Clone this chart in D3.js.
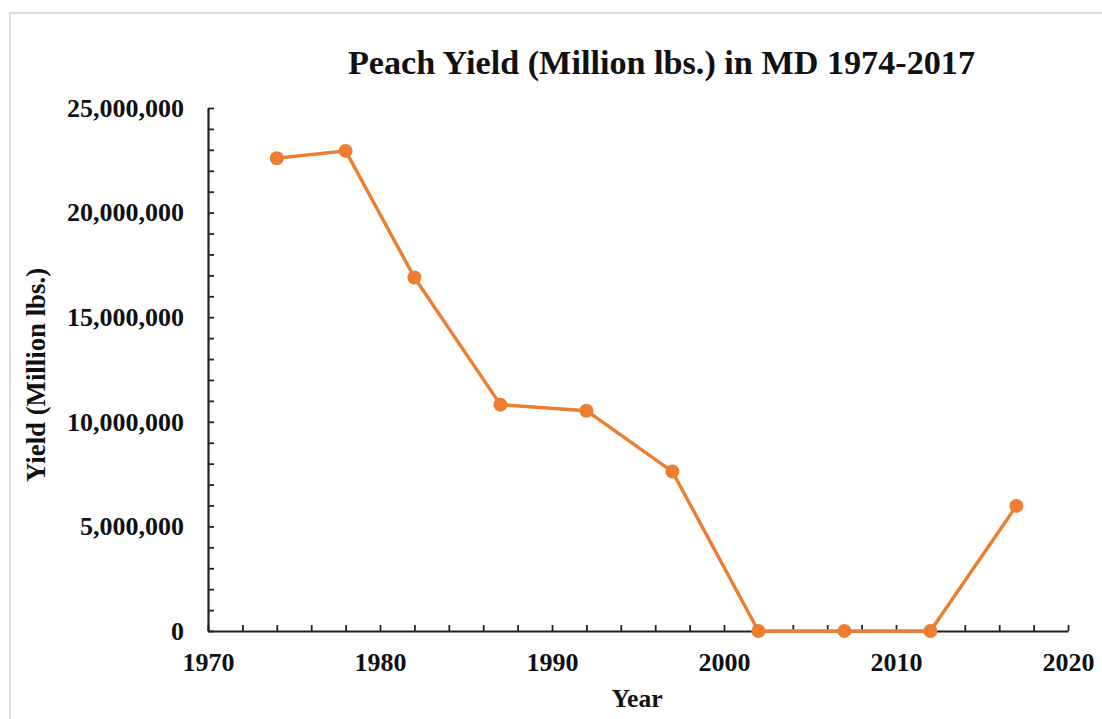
<!DOCTYPE html>
<html>
<head>
<meta charset="utf-8">
<script src="https://cdn.jsdelivr.net/npm/d3@7"></script>
<style>
  html, body { margin: 0; padding: 0; background: #fff; }
  svg { display: block; }
  text { font-family: "Liberation Serif", "Times New Roman", serif; font-weight: bold; fill: #111; }
</style>
</head>
<body>
<svg id="chart" width="1102" height="719"></svg>
<script>
// Maryland peach yield by survey year
const years = [1974, 1978, 1982, 1987, 1992, 1997, 2002, 2007, 2012, 2017];
const yieldLbs = [22600000, 22950000, 16900000, 10820000, 10530000, 7620000, 0, 0, 0, 5980000];
const yTickLabels = [0, 5000000, 10000000, 15000000, 20000000, 25000000];
const xTickLabels = [1970, 1980, 1990, 2000, 2010, 2020];

const titleText = "Peach Yield (Million lbs.) in MD 1974-2017";
const xTitle = "Year";
const yTitle = "Yield (Million lbs.)";

const svg = d3.select("#chart");
const W = 1102, H = 719;
const plot = { left: 208, right: 1068, top: 108, bottom: 631 };
const labelFont = "26px";

// outer frame
svg.append("rect")
  .attr("x", 10).attr("y", 13)
  .attr("width", W + 20).attr("height", H + 20)
  .attr("fill", "#fff").attr("stroke", "#dcdcdc").attr("stroke-width", 2);

const x = d3.scaleLinear().domain([1970, 2020]).range([plot.left, plot.right]);
const y = d3.scaleLinear().domain([0, 25000000]).range([plot.bottom, plot.top]);

const axisColor = "#222";

// y axis: minor ticks every 1M pointing inward
const yMinor = svg.append("g")
  .attr("transform", `translate(${plot.left},0)`)
  .call(d3.axisLeft(y).tickValues(d3.range(0, 25000001, 1000000)).tickFormat("").tickSizeInner(-6).tickSizeOuter(0));
yMinor.select(".domain").attr("stroke", axisColor).attr("stroke-width", 2.2);
yMinor.selectAll(".tick line").attr("stroke", axisColor).attr("stroke-width", 1.8);

// y axis labels
const yLab = svg.append("g")
  .attr("transform", `translate(${plot.left},0)`)
  .call(d3.axisLeft(y).tickValues(yTickLabels).tickFormat(d3.format(",")).tickSize(0).tickPadding(24));
yLab.select(".domain").remove();
yLab.selectAll("text").style("font-size", labelFont).attr("fill", "#111")
  .style("font-family", "'Liberation Serif', serif").style("font-weight", "bold");

// x axis: ticks every 2 years pointing inward
const xMinor = svg.append("g")
  .attr("transform", `translate(0,${plot.bottom})`)
  .call(d3.axisBottom(x).tickValues(d3.range(1970, 2021, 2)).tickFormat("").tickSizeInner(-6).tickSizeOuter(0));
xMinor.select(".domain").attr("stroke", axisColor).attr("stroke-width", 2.2);
xMinor.selectAll(".tick line").attr("stroke", axisColor).attr("stroke-width", 1.8);

// x axis labels
const xLab = svg.append("g")
  .attr("transform", `translate(0,${plot.bottom})`)
  .call(d3.axisBottom(x).tickValues(xTickLabels).tickFormat(d3.format("d")).tickSize(0).tickPadding(22));
xLab.select(".domain").remove();
xLab.selectAll("text").style("font-size", labelFont).attr("fill", "#111")
  .style("font-family", "'Liberation Serif', serif").style("font-weight", "bold");

// series line and markers
const orange = "#ED7D31";
const data = years.map((yr, i) => ({ year: yr, value: yieldLbs[i] }));
svg.append("path")
  .datum(data)
  .attr("fill", "none")
  .attr("stroke", orange)
  .attr("stroke-width", 3.4)
  .attr("stroke-linejoin", "round")
  .attr("d", d3.line().x(d => x(d.year)).y(d => y(d.value)));
svg.append("g").selectAll("circle")
  .data(data)
  .join("circle")
  .attr("cx", d => x(d.year))
  .attr("cy", d => y(d.value))
  .attr("r", 7)
  .attr("fill", orange);

// titles
svg.append("text")
  .attr("x", 661.5).attr("y", 74)
  .attr("text-anchor", "middle")
  .style("font-size", "34.2px")
  .text(titleText);

svg.append("text")
  .attr("x", 637).attr("y", 707)
  .attr("text-anchor", "middle")
  .style("font-size", "25.6px")
  .text(xTitle);

svg.append("text")
  .attr("transform", "translate(45,375) rotate(-90)")
  .attr("text-anchor", "middle")
  .style("font-size", "26.8px")
  .text(yTitle);
</script>
</body>
</html>
